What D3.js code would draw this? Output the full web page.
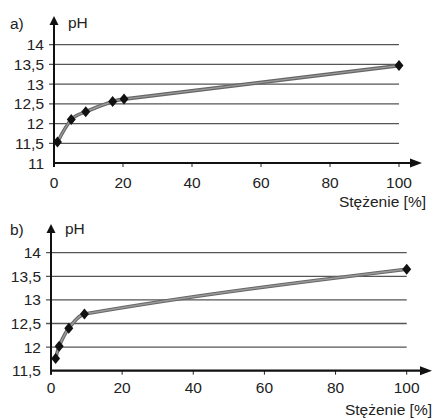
<html>
<meta charset="utf-8" />
<head>
<title>pH vs Stężenie</title>
<script src="https://cdn.jsdelivr.net/npm/d3@7/dist/d3.min.js"></script>
<style>
	body { margin: 0; background: #fff; }
	text { font-family: "Liberation Sans", Arial, sans-serif; font-size: 15.5px; fill: #222; }
</style>
<script>

// dane z wykresu a)
let concA = [1, 5, 9.2, 17, 20.3, 100];
let phA = [11.53, 12.1, 12.3, 12.56, 12.62, 13.47];
let yTicksA = [11, 11.5, 12, 12.5, 13, 13.5, 14];

// dane z wykresu b)
let concB = [1.3, 2.3, 5, 9.4, 100];
let phB = [11.76, 12.02, 12.4, 12.7, 13.65];
let yTicksB = [11.5, 12, 12.5, 13, 13.5, 14];

let xTicks = [0, 20, 40, 60, 80, 100];
let xTitle = 'Stężenie [%]';
let yTitle = 'pH';

function fmt(d) { return String(d).replace('.', ','); }

// wygładzona krzywa (Hermite), styczne ważone długością odcinków
function smoothPath(p) {
	let n = p.length, s = [], h = [], m = [];
	for (let i = 0; i < n - 1; i++) {
		h[i] = p[i + 1][0] - p[i][0];
		s[i] = (p[i + 1][1] - p[i][1]) / h[i];
	}
	for (let i = 1; i < n - 1; i++) {
		m[i] = (h[i - 1] * s[i - 1] + h[i] * s[i]) / (h[i - 1] + h[i]);
	}
	m[0] = (3 * s[0] - m[1]) / 2;
	m[n - 1] = (3 * s[n - 2] - m[n - 2]) / 2;
	let path = d3.path();
	path.moveTo(p[0][0], p[0][1]);
	for (let i = 0; i < n - 1; i++) {
		let d = h[i] / 3;
		path.bezierCurveTo(p[i][0] + d, p[i][1] + d * m[i], p[i + 1][0] - d, p[i + 1][1] - d * m[i + 1], p[i + 1][0], p[i + 1][1]);
	}
	return path.toString();
}

function drawChart(svg, o) {
	let g = svg.append('g');
	let x = d3.scaleLinear().domain([0, 100]).range([o.x0, o.x1]);
	let y = d3.scaleLinear().domain([o.yTicks[0], o.yTicks[o.yTicks.length - 1]]).range([o.yBottom, o.yTop]);

	// linie siatki
	g.selectAll('.grid')
		.data(o.yTicks.slice(1))
		.enter()
		.append('line')
		.attr('x1', o.x0 - 5)
		.attr('x2', x(100))
		.attr('y1', function(d) { return y(d); })
		.attr('y2', function(d) { return y(d); })
		.style('stroke', '#555')
		.style('stroke-width', '1.3px');

	// etykiety osi Y
	g.selectAll('.ylab')
		.data(o.yTicks)
		.enter()
		.append('text')
		.attr('x', o.x0 - 10)
		.attr('y', function(d) { return y(d) + 5.5; })
		.attr('text-anchor', 'end')
		.text(fmt);

	// znaczniki i etykiety osi X
	g.selectAll('.xtick')
		.data(xTicks)
		.enter()
		.append('line')
		.attr('x1', function(d) { return x(d); })
		.attr('x2', function(d) { return x(d); })
		.attr('y1', o.yBottom)
		.attr('y2', o.yBottom + 4)
		.style('stroke', '#222')
		.style('stroke-width', '1px');

	g.selectAll('.xlab')
		.data(xTicks)
		.enter()
		.append('text')
		.attr('x', function(d) { return x(d); })
		.attr('y', o.yBottom + o.xLabDy)
		.attr('text-anchor', 'middle')
		.text(function(d) { return d; });

	// osie ze strzałkami
	g.append('line')
		.attr('x1', o.x0).attr('x2', o.x0)
		.attr('y1', o.yBottom + 4).attr('y2', o.arrowTop + 6)
		.style('stroke', '#111').style('stroke-width', '2px');
	g.append('path')
		.attr('d', 'M' + (o.x0 - 4.5) + ',' + (o.arrowTop + 9) + 'L' + o.x0 + ',' + o.arrowTop + 'L' + (o.x0 + 4.5) + ',' + (o.arrowTop + 9) + 'Z')
		.style('fill', '#111');
	g.append('line')
		.attr('x1', o.x0 - 1).attr('x2', o.arrowRight - 8)
		.attr('y1', o.yBottom).attr('y2', o.yBottom)
		.style('stroke', '#111').style('stroke-width', '2.2px');
	g.append('path')
		.attr('d', 'M' + (o.arrowRight - 12) + ',' + (o.yBottom - 4.5) + 'L' + o.arrowRight + ',' + o.yBottom + 'L' + (o.arrowRight - 12) + ',' + (o.yBottom + 4.5) + 'Z')
		.style('fill', '#111');

	// krzywa
	let pts = o.conc.map(function(c, i) { return [c, o.ph[i]]; });
	let px = pts.map(function(d) { return [x(d[0]), y(d[1])]; });
	let dPath = smoothPath(px);
	g.append('path').attr('d', dPath)
		.style('fill', 'none').style('stroke', '#666').style('stroke-width', '3.6px');
	g.append('path').attr('d', dPath)
		.style('fill', 'none').style('stroke', '#9a9a9a').style('stroke-width', '1.4px');

	// punkty - romby
	g.selectAll('.pt')
		.data(pts)
		.enter()
		.append('path')
		.attr('d', 'M0,-5.5L4.5,0L0,5.5L-4.5,0Z')
		.attr('transform', function(d) { return 'translate(' + x(d[0]) + ',' + y(d[1]) + ')'; })
		.style('fill', '#111');

	// podpisy
	g.append('text').attr('x', 10).attr('y', o.labY).text(o.label);
	g.append('text').attr('x', o.x0 + 14).attr('y', o.labY - 1).text(yTitle);
	g.append('text').attr('x', o.titleRight).attr('y', o.titleY).attr('text-anchor', 'end').text(xTitle);
}

window.onload = function() {
	let svg = d3.select('svg');
	drawChart(svg, {
		label: 'a)', conc: concA, ph: phA, yTicks: yTicksA,
		x0: 54, x1: 399, yTop: 44.7, yBottom: 163,
		arrowTop: 16, arrowRight: 422, xLabDy: 25,
		labY: 29, titleRight: 426, titleY: 207
	});
	drawChart(svg, {
		label: 'b)', conc: concB, ph: phB, yTicks: yTicksB,
		x0: 51, x1: 406.7, yTop: 252.7, yBottom: 370.7,
		arrowTop: 224, arrowRight: 432, xLabDy: 22.5,
		labY: 235, titleRight: 432, titleY: 415
	});
}

</script>
</head>
<body>
	<svg style="width:434px;height:419px;" />
</body>
</html>
